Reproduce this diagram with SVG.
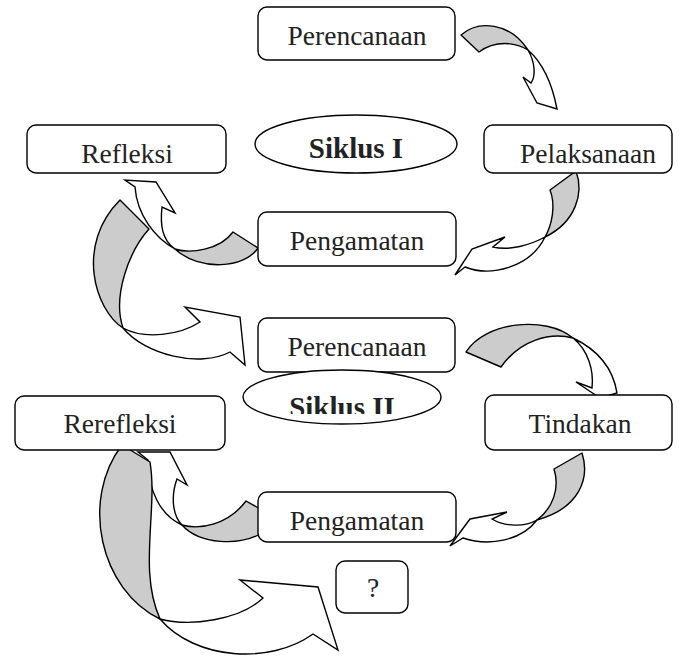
<svg xmlns="http://www.w3.org/2000/svg" width="684" height="660" viewBox="0 0 684 660">
<style>
.bx{fill:#fff;stroke:#000;stroke-width:1.4}
.el{fill:#fff;stroke:#000;stroke-width:1.4}
.g{fill:#cccccc;stroke:#000;stroke-width:1.4;stroke-linejoin:round}
.w{fill:#fff;stroke:#000;stroke-width:1.4;stroke-linejoin:miter}
.t{font-family:"Liberation Serif","Times New Roman",serif;font-size:27.5px;fill:#222;text-anchor:middle}
.tb{font-family:"Liberation Serif","Times New Roman",serif;font-size:29px;font-weight:bold;fill:#222;text-anchor:middle}
</style>
<defs>
<clipPath id="clipS2"><rect x="240" y="370" width="205" height="44"/></clipPath>
</defs>
<rect width="684" height="660" fill="#fff"/>
<g id="connectors">
  <g id="arrowA"><path class="g" d="M461,35 C478,20 510,22 528,50 C515,42 495,40 479,52 Z"/><path class="w" d="M528,50 C535,62 536,76 531,83 L523,77 L537,103 L557,109 C553,88 545,65 528,50 Z"/></g>
  <g id="arrowB"><path class="g" d="M550,190 L576,171 C584,193 576,222 545,237 C552,225 556,205 550,190 Z"/><path class="w" d="M545,237 C530,245 510,251 493,247 L505,237 L472,249 L455,275 L465,267 C490,277 530,268 545,237 Z"/></g>
  <g id="arrowC"><path class="g" d="M233,232 L258,248 C245,268 200,272 175,249 C190,254 220,250 233,232 Z"/><path class="w" d="M175,249 C155,238 137,215 135,187 L125,180 L156,182 L175,213 L162,207 C160,225 162,240 175,249 Z"/></g>
  <g id="arrowD"><path class="g" d="M120,200 L149,229 C130,250 112,295 123,328 C95,310 75,245 120,200 Z"/><path class="w" d="M123,328 C145,355 200,368 230,352 L245,365 L240,317 L185,307 L200,322 C180,335 145,340 123,328 Z"/></g>
  <g id="arrowE"><path class="g" d="M466,352 C485,322 545,315 573,338 C550,332 520,340 501,367 Z"/><path class="w" d="M573,338 C598,350 613,368 617,393 L600,398 L576,382 L592,388 C594,370 588,350 573,338 Z"/></g>
  <g id="arrowF"><path class="g" d="M554,469 L582,453 C590,478 580,508 537,520 C553,508 560,488 554,469 Z"/><path class="w" d="M537,520 C525,527 505,527 492,519 L507,512 L470,519 L450,546 L463,538 C490,547 522,540 537,520 Z"/></g>
  <g id="arrowG"><path class="g" d="M246,501 L262,510 L262,533 C240,546 200,545 182,525 C200,530 228,525 246,501 Z"/><path class="w" d="M182,525 C160,515 148,490 148,460 L138,452 L170,452 L187,485 L177,479 C171,495 172,515 182,525 Z"/></g>
  <g id="arrowH"><path class="g" d="M122,445 L150,462 C158,510 138,570 160,619 C100,590 80,500 122,445 Z"/><path class="w" d="M160,619 C190,627 240,620 263,598 L240,580 L318,587 L338,650 L313,634 C270,665 195,660 160,619 Z"/></g>
</g>
<g id="perencanaan1"><rect class="bx" x="258" y="7" width="197" height="53" rx="9"/><text class="t" x="357" y="45">Perencanaan</text></g>
<g id="siklus1"><ellipse class="el" cx="356" cy="144" rx="101" ry="29"/><text class="tb" x="356" y="158">Siklus I</text></g>
<g id="refleksi"><rect class="bx" x="27" y="125" width="199" height="48" rx="9"/><text class="t" x="127" y="163">Refleksi</text></g>
<g id="pelaksanaan"><rect class="bx" x="484" y="125" width="188" height="48" rx="9"/><text class="t" x="588" y="163">Pelaksanaan</text></g>
<g id="pengamatan1"><rect class="bx" x="258" y="212" width="198" height="54" rx="9"/><text class="t" x="357" y="250">Pengamatan</text></g>
<g id="perencanaan2"><rect class="bx" x="258" y="318" width="197" height="54" rx="9"/><text class="t" x="357" y="356">Perencanaan</text></g>
<g id="siklus2"><ellipse class="el" cx="342" cy="397" rx="99" ry="27"/><text class="tb" x="342" y="417" clip-path="url(#clipS2)">Siklus II</text></g>
<g id="rerefleksi"><rect class="bx" x="15" y="396" width="210" height="54" rx="9"/><text class="t" x="120" y="433">Rerefleksi</text></g>
<g id="tindakan"><rect class="bx" x="485" y="395" width="187" height="55" rx="9"/><text class="t" x="580" y="433">Tindakan</text></g>
<g id="pengamatan2"><rect class="bx" x="258" y="492" width="198" height="50" rx="9"/><text class="t" x="357" y="530">Pengamatan</text></g>
<g id="q"><rect class="bx" x="336" y="561" width="72" height="52" rx="9"/><text class="t" x="373" y="597">?</text></g>
</svg>
